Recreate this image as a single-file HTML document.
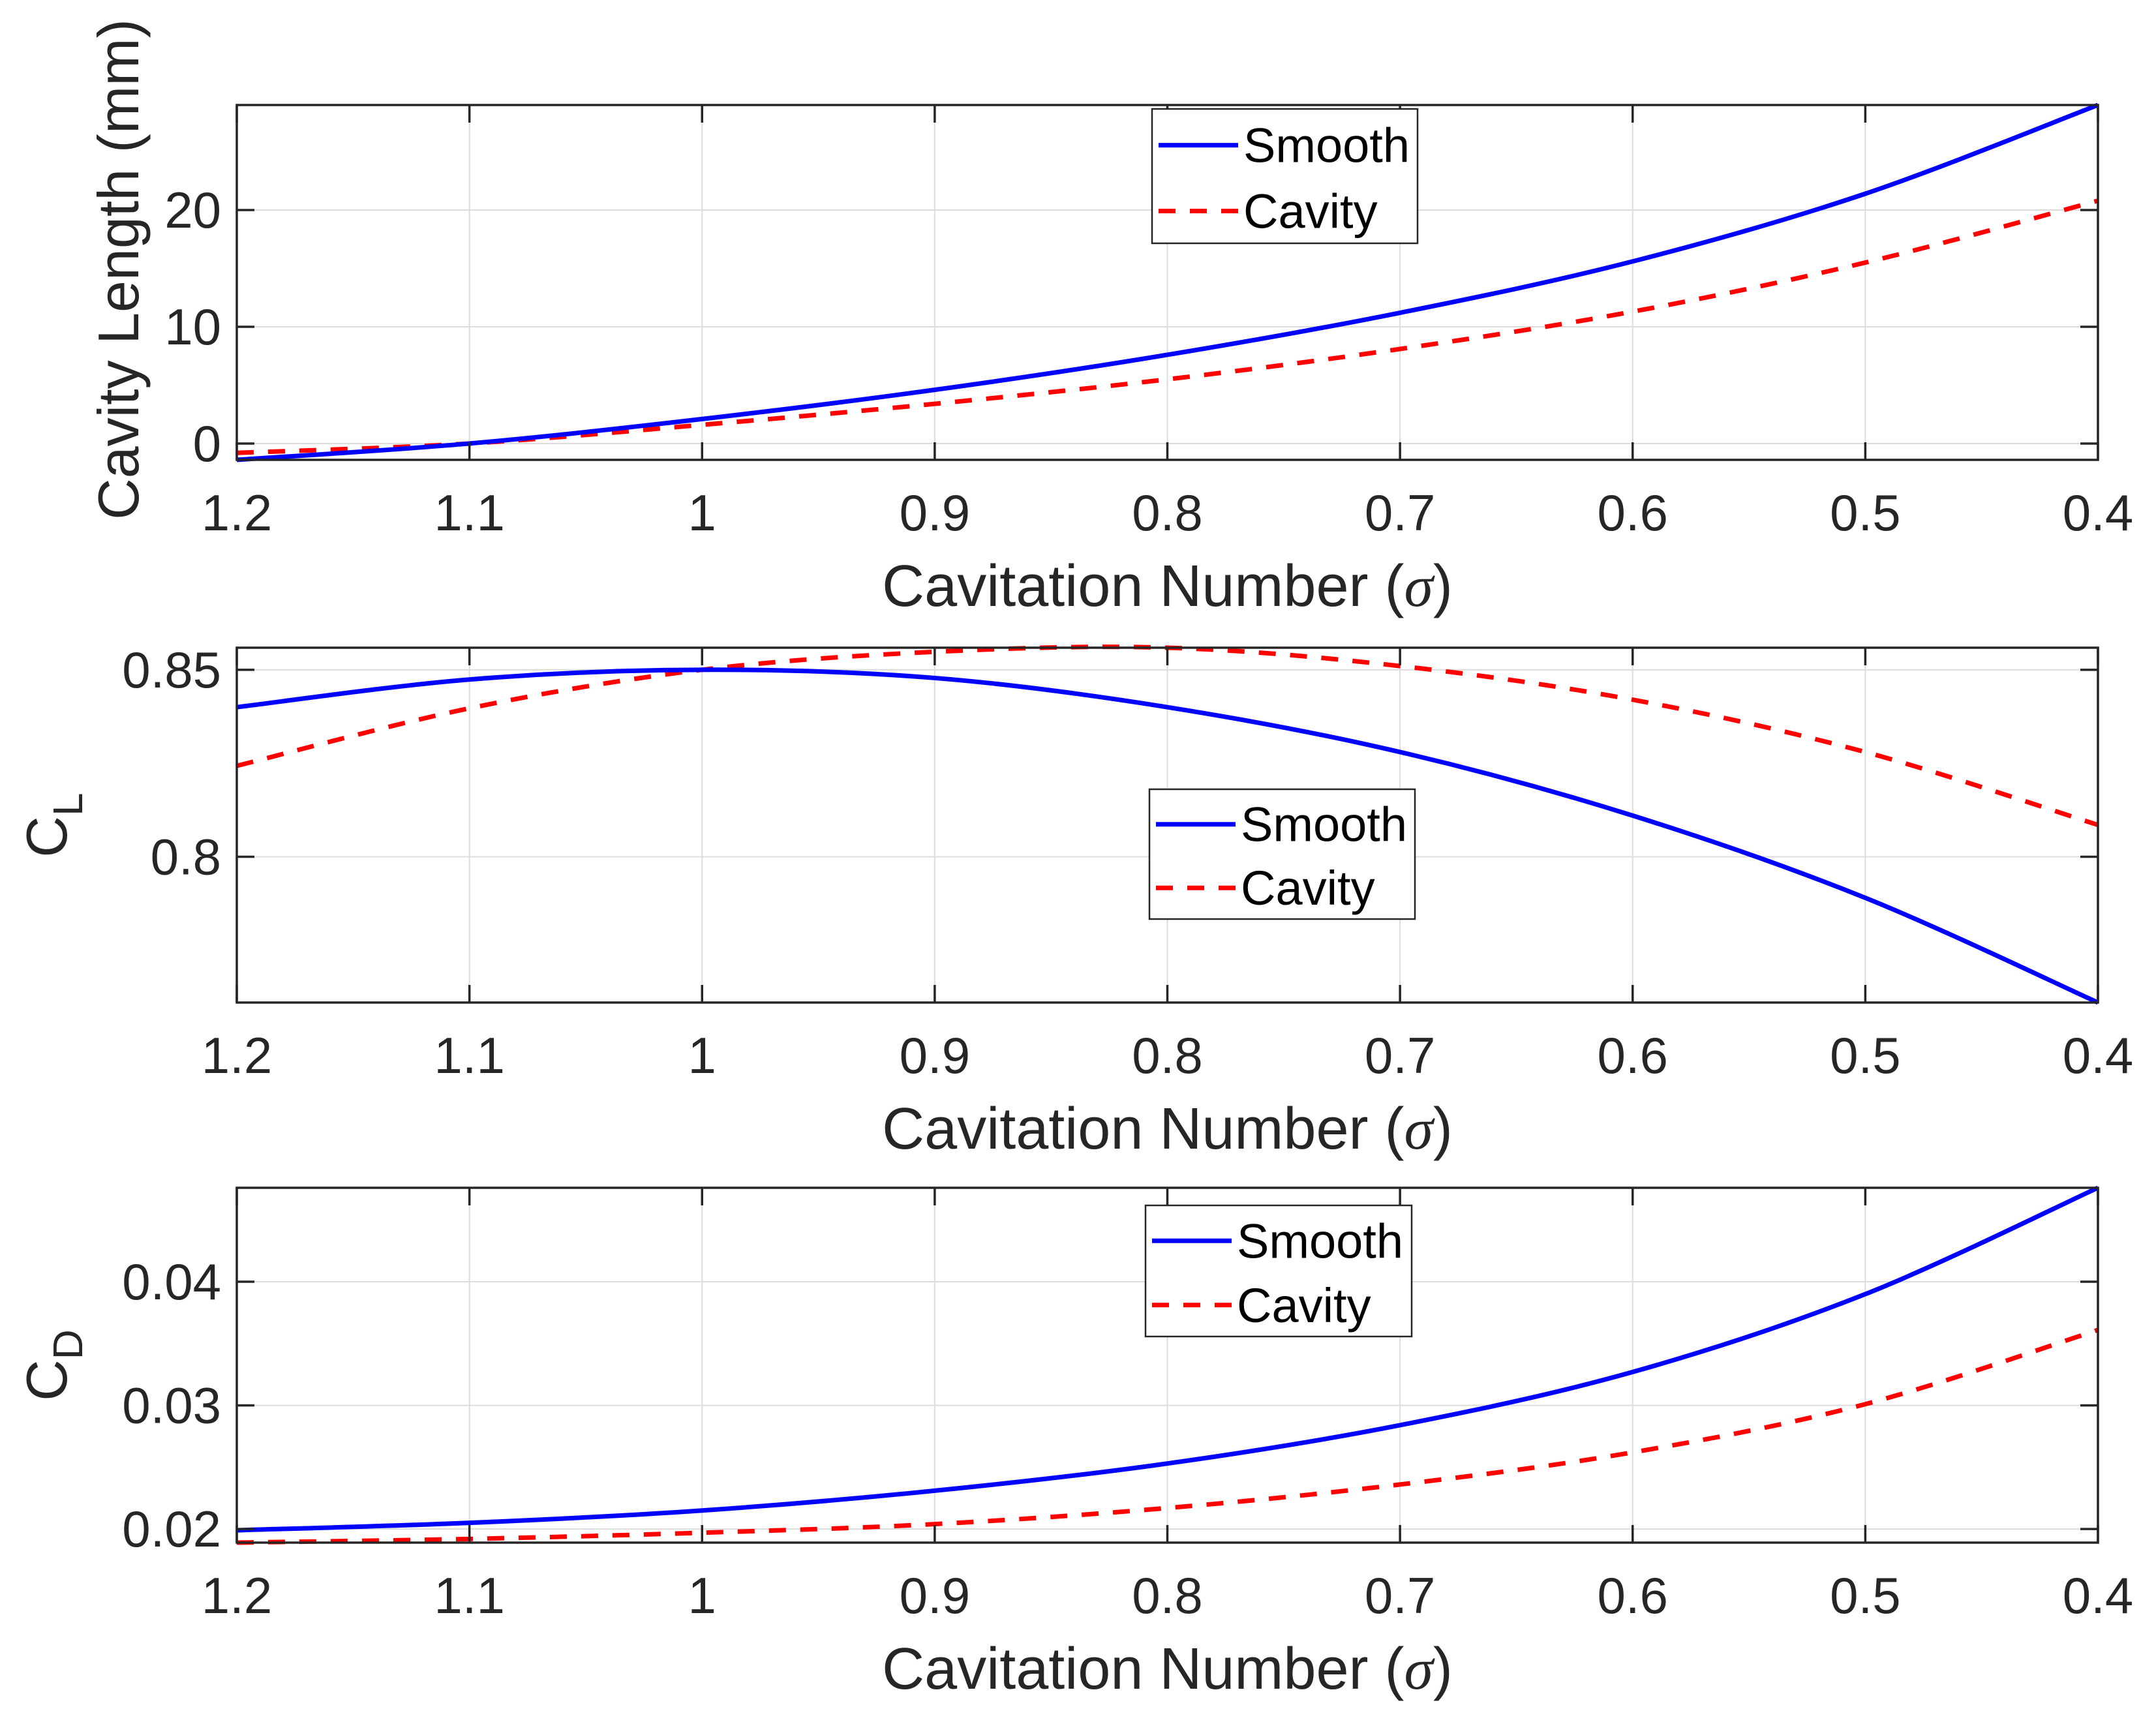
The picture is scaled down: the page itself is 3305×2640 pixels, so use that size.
<!DOCTYPE html>
<html><head><meta charset="utf-8"><style>
html,body{margin:0;padding:0;background:#fff;}
svg{display:block;font-family:"Liberation Sans",Arial,sans-serif;}
</style></head><body>
<svg id="fig" width="3305" height="2640" viewBox="0 0 3305 2640" xmlns="http://www.w3.org/2000/svg"></svg>
<script>
const sigma = [1.2, 1.1, 1.0, 0.9, 0.8, 0.7, 0.6, 0.5, 0.4];
const xTicks = [1.2, 1.1, 1, 0.9, 0.8, 0.7, 0.6, 0.5, 0.4];
const xTickLabels = ["1.2","1.1","1","0.9","0.8","0.7","0.6","0.5","0.4"];
const lenSmooth = [-1.4, 0.0, 2.1, 4.6, 7.6, 11.2, 15.6, 21.4, 29.0];
const lenCavity = [-0.8, 0.0, 1.6, 3.4, 5.5, 8.1, 11.3, 15.5, 20.8];
const clSmooth = [0.840, 0.8474, 0.850, 0.8478, 0.840, 0.828, 0.811, 0.789, 0.761];
const clCavity = [0.8243, 0.8397, 0.850, 0.8548, 0.8559, 0.851, 0.842, 0.828, 0.8085];
const cdSmooth = [0.0199, 0.0205, 0.0215, 0.0231, 0.0253, 0.0284, 0.0327, 0.0390, 0.0476];
const cdCavity = [0.0189, 0.0192, 0.0197, 0.0204, 0.0217, 0.0236, 0.0262, 0.0301, 0.0361];
const lenTicks = [0, 10, 20];
const lenTickLabels = ["0","10","20"];
const clTicks = [0.8, 0.85];
const clTickLabels = ["0.8","0.85"];
const cdTicks = [0.02, 0.03, 0.04];
const cdTickLabels = ["0.02","0.03","0.04"];

const NS = "http://www.w3.org/2000/svg";
const svg = document.getElementById('fig');
function mk(tag, attrs, parent){const e=document.createElementNS(NS,tag);for(const k in attrs)e.setAttribute(k,attrs[k]);(parent||svg).appendChild(e);return e;}

const L = 363, R = 3216;
const panels = [
 {top:161, bot:705, ymin:-1.4, ymax:29.0, s:lenSmooth, c:lenCavity, ticks:lenTicks, labels:lenTickLabels, name:'cavity-length', ylab:'Cavity Length (mm)', leg:[1766,167,2173,373]},
 {top:993, bot:1537, ymin:0.761, ymax:0.8559, s:clSmooth, c:clCavity, ticks:clTicks, labels:clTickLabels, name:'lift-coefficient', ylab:'C', sub:'L', leg:[1762,1210,2169,1409]},
 {top:1821, bot:2365, ymin:0.0189, ymax:0.0476, s:cdSmooth, c:cdCavity, ticks:cdTicks, labels:cdTickLabels, name:'drag-coefficient', ylab:'C', sub:'D', leg:[1756,1848,2164,2049]}
];
function xs(v){return L + (1.2 - v)/(1.2-0.4)*(R-L);}

function smoothPath(pts){
  let d = 'M'+pts[0][0]+','+pts[0][1];
  for(let i=0;i<pts.length-1;i++){
    const p0=pts[Math.max(0,i-1)],p1=pts[i],p2=pts[i+1],p3=pts[Math.min(pts.length-1,i+2)];
    const c1x=p1[0]+(p2[0]-p0[0])/6,c1y=p1[1]+(p2[1]-p0[1])/6;
    const c2x=p2[0]-(p3[0]-p1[0])/6,c2y=p2[1]-(p3[1]-p1[1])/6;
    d+=' C'+c1x+','+c1y+' '+c2x+','+c2y+' '+p2[0]+','+p2[1];
  }
  return d;
}

panels.forEach(p=>{
  const ys = v => p.bot - (v-p.ymin)/(p.ymax-p.ymin)*(p.bot-p.top);
  const g = mk('g',{});
  
  
  xTicks.forEach((t,i)=>{
    const x = xs(t);
    const gl = mk('line',{x1:x,x2:x,y1:p.top,y2:p.bot,stroke:'#dcdcdc','stroke-width':2},g);
    
    
  });
  p.ticks.forEach(t=>{
    const y = ys(t);
    const gl = mk('line',{x1:L,x2:R,y1:y,y2:y,stroke:'#dcdcdc','stroke-width':2},g);
    
    
  });
  const cp = mk('path',{d:smoothPath(sigma.map((s,i)=>[xs(s),ys(p.c[i])])),fill:'none',stroke:'#ff0000','stroke-width':7,'stroke-dasharray':'26 22'},g);
  
  
  const sp = mk('path',{d:smoothPath(sigma.map((s,i)=>[xs(s),ys(p.s[i])])),fill:'none',stroke:'#0000ff','stroke-width':7},g);
  
  
  const fr = mk('rect',{x:L,y:p.top,width:R-L,height:p.bot-p.top,fill:'none',stroke:'#262626','stroke-width':3.5},g);
  
  
  xTicks.forEach((t,i)=>{
    const x = xs(t);
    mk('line',{x1:x,x2:x,y1:p.bot,y2:p.bot-27,stroke:'#262626','stroke-width':3.5},g);
    mk('line',{x1:x,x2:x,y1:p.top,y2:p.top+27,stroke:'#262626','stroke-width':3.5},g);
    const tx = mk('text',{x:x,y:p.bot+108,'text-anchor':'middle','font-size':78,fill:'#262626'},g);
    tx.textContent = xTickLabels[i];
    
    
  });
  p.ticks.forEach((t,i)=>{
    const y = ys(t);
    mk('line',{x1:L,x2:L+27,y1:y,y2:y,stroke:'#262626','stroke-width':3.5},g);
    mk('line',{x1:R,x2:R-27,y1:y,y2:y,stroke:'#262626','stroke-width':3.5},g);
    const tx = mk('text',{x:L-24,y:y+27,'text-anchor':'end','font-size':78,fill:'#262626'},g);
    tx.textContent = p.labels[i];
    
    
  });
  const xl = mk('text',{x:(L+R)/2,y:p.bot+224,'text-anchor':'middle','font-size':90,fill:'#262626'},g);
  xl.innerHTML = 'Cavitation Number (<tspan font-family="Liberation Serif" font-style="italic">σ</tspan>)';
  
  
  const cy = (p.top+p.bot)/2 + (p.sub?0:-20);
  const yx = p.sub ? 102 : 212;
  const yl = mk('text',{x:yx,y:cy,'text-anchor':'middle','font-size':88,fill:'#262626',transform:'rotate(-90 '+yx+' '+cy+')'},g);
  if(p.sub){ yl.innerHTML = 'C<tspan font-size="64" dy="24">'+p.sub+'</tspan>'; }
  else yl.textContent = p.ylab;
  
  
  const [lx1,ly1,lx2,ly2] = p.leg;
  const lg = mk('g',{},g);
  
  
  mk('rect',{x:lx1,y:ly1,width:lx2-lx1,height:ly2-ly1,fill:'#fff',stroke:'#262626','stroke-width':2.5},lg);
  const r1 = ly1 + (ly2-ly1)*0.27, r2 = ly1 + (ly2-ly1)*0.76;
  mk('line',{x1:lx1+10,x2:lx1+132,y1:r1,y2:r1,stroke:'#0000ff','stroke-width':7},lg);
  mk('line',{x1:lx1+10,x2:lx1+132,y1:r2,y2:r2,stroke:'#ff0000','stroke-width':7,'stroke-dasharray':'26 22'},lg);
  const t1 = mk('text',{x:lx1+140,y:r1+26,'font-size':74,fill:'#000'},lg);
  t1.textContent='Smooth';
  
  
  const t2 = mk('text',{x:lx1+140,y:r2+26,'font-size':74,fill:'#000'},lg);
  t2.textContent='Cavity';
  
  
});
</script>
</body></html>
